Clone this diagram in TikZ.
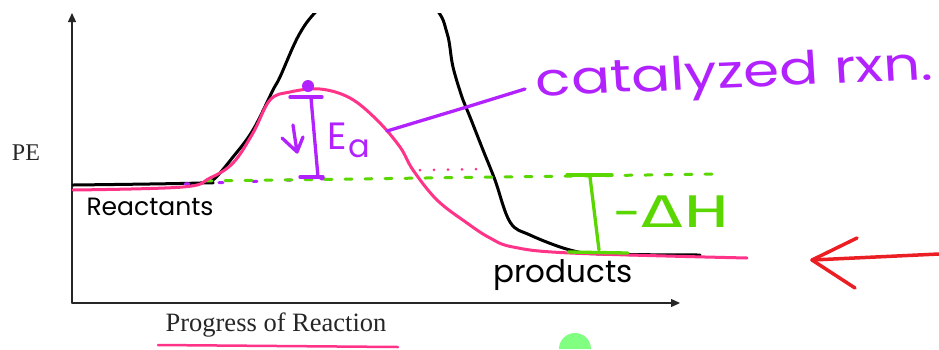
\documentclass[tikz,border=0pt]{standalone}
\usepackage{fontspec}
\setmainfont{Liberation Serif}
\newfontfamily\handfont{Poppins}
\newfontfamily\greekhand{Fira Sans}
\usetikzlibrary{arrows.meta}
\definecolor{pinkline}{RGB}{255,51,136}
\definecolor{purp}{RGB}{178,34,255}
\definecolor{lime}{RGB}{90,215,0}
\definecolor{redpen}{RGB}{235,30,35}
\definecolor{blob}{RGB}{128,255,128}
\begin{document}
\begin{tikzpicture}[x=1pt,y=-1pt,line cap=round,line join=round]
\tikzset{axis/.style={line width=1.3pt,draw=black!85,-{Triangle[length=9pt,width=8pt]}},
 curve/.style={line width=3pt},
 pen/.style={line width=3.3pt},
 hand/.style={font=\handfont,inner sep=0pt},
 label/.style={inner sep=0pt,text=black!85}}
\useasboundingbox (0,0) rectangle (939,349);
% axes
\coordinate (o) at (72,303);
\coordinate (ytop) at (72,13);
\coordinate (xend) at (680,303);
\draw[axis] (o)--(ytop);
\draw[axis] (o)--(xend);
\node[label,font=\fontsize{24}{27}\selectfont] (pe) at (26,153) {PE};
\node[label,font=\fontsize{26.5}{29}\selectfont] (prog) at (276,325) {Progress of Reaction};
\draw[pinkline,line width=2.5pt] (158,345)--(398,347);
% uncatalyzed
\begin{scope}
\clip (0,13) rectangle (939,349);
\draw[curve] plot[smooth,tension=.6] coordinates {(73,185) (200,183) (213,180) (233,157)
 (253,130) (273,90) (280,77) (300,33) (322,5) (376,-50) (433,5) (447,33) (453,67) (463,100)
 (470,117) (483,150) (495,180) (510,222) (530,235) (570,250) (603,254) (700,255)};
\end{scope}
% reference levels
\draw[purp,line width=3pt,dash pattern=on 4pt off 30pt] (185,184)--(345,178);
\draw[lime,line width=3pt,dash pattern=on 7pt off 13pt] (205,181)--(720,174);
\draw[pinkline,line width=3pt,dash pattern=on 0pt off 14pt] (420,170)--(478,169);
% catalyzed
\draw[curve,pinkline] plot[smooth,tension=.6] coordinates {(73,190) (183,187) (210,178)
 (233,163) (253,133) (270,100) (290,92) (320,89) (350,98) (377,120) (400,147) (413,170)
 (437,200) (467,223) (490,238) (513,247) (570,253) (747,258)};
% Ea
\fill[purp] (308,86) circle (6);
\draw[purp,pen] (290,97)--(322,97);
\draw[purp,pen] (311,98)--(318,177);
\draw[purp,pen] (300,177)--(323,177);
\draw[purp,pen] (293,125)--(297,152) (282,138)--(297,152)--(303,137);
\node[hand,text=purp,font=\handfont\fontsize{38}{40}\selectfont] (ea) at (337,136) {E};
\node[hand,text=purp,font=\handfont\fontsize{32}{34}\selectfont] (easub) at (359,149) {a};
% catalyzed label
\coordinate (lead) at (387,131);
\node[hand,text=purp,font=\handfont\fontsize{46}{50}\selectfont,anchor=west,xscale=1.26,rotate=3] (cat) at (536,85) {catalyzed rxn.};
\coordinate (catend) at (525,89);
\draw[purp,pen] (lead)--(470,106)--(catend);
% Delta H
\draw[lime,pen] (567,175)--(612,175);
\draw[lime,pen] (590,177)--(599,250);
\draw[lime,pen] (568,252)--(628,253);
\node[hand,text=lime,font=\greekhand\fontsize{46}{50}\selectfont,xscale=1.55] (dh) at (672,212) {-ΔH};
% state labels
\node[hand,font=\handfont\fontsize{25}{28}\selectfont] (react) at (150,207) {Reactants};
\node[hand,font=\handfont\fontsize{31}{34}\selectfont] (prod) at (563,275) {products};
% red arrow
\coordinate (redtail) at (939,254);
\coordinate (redtip) at (812,260);
\draw[redpen,line width=3.5pt] (redtail)--(redtip);
\draw[redpen,line width=3.5pt] (857,238)--(redtip)--(855,288);
\fill[blob] (559,349) arc[start angle=180,end angle=360,radius=16];
\end{tikzpicture}
\end{document}
